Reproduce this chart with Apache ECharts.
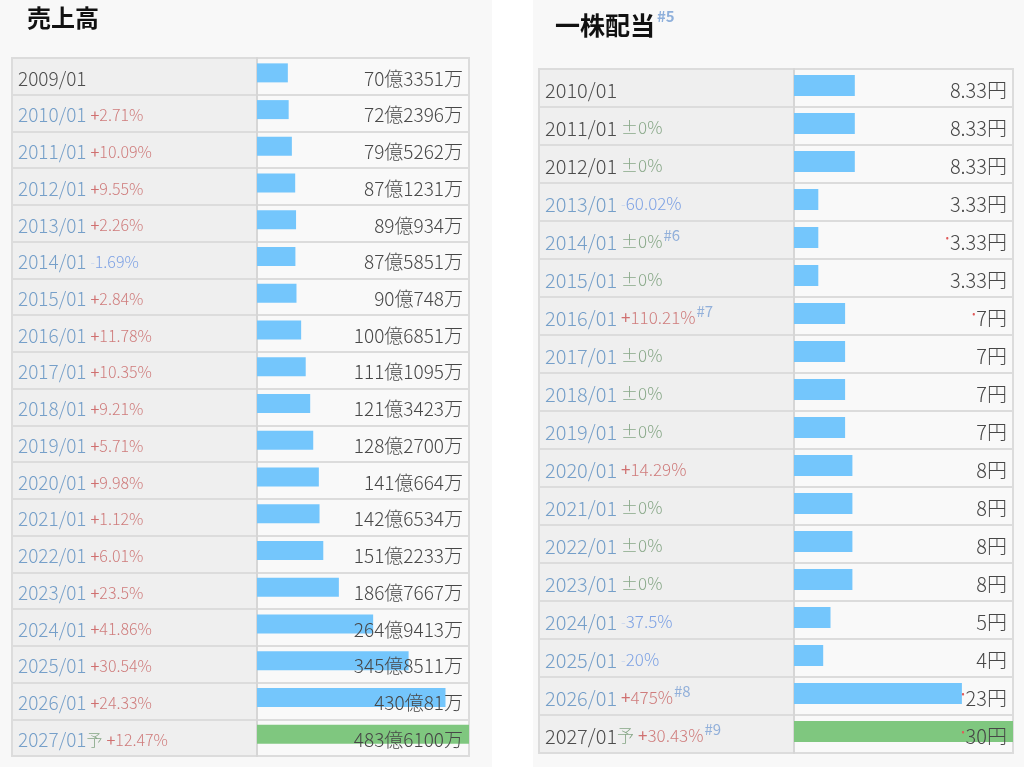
<!DOCTYPE html>
<html>
<head>
<meta charset="utf-8">
<title>売上高・一株配当</title>
<script src="https://cdn.jsdelivr.net/npm/echarts@6/dist/echarts.min.js"></script>
<style>
  html, body { margin: 0; padding: 0; background: #fff; }
  .panel { position: absolute; top: 0; height: 767px; background: #f8f8f8; }
  #sales { left: 0; width: 492px; }
  #dividend { left: 533px; width: 491px; }
</style>
</head>
<body>
<div id="sales" class="panel"></div>
<div id="dividend" class="panel"></div>
<script>
// 売上高（万円単位）
var salesYears = ['2009/01', '2010/01', '2011/01', '2012/01', '2013/01', '2014/01', '2015/01',
  '2016/01', '2017/01', '2018/01', '2019/01', '2020/01', '2021/01', '2022/01', '2023/01',
  '2024/01', '2025/01', '2026/01', '2027/01'];
var salesValues = [703351, 722396, 795262, 871231, 890934, 875851, 900748, 1006851, 1111095,
  1213423, 1282700, 1410664, 1426534, 1512233, 1867667, 2649413, 3458511, 4300081, 4836100];
var salesChange = [null, 2.71, 10.09, 9.55, 2.26, -1.69, 2.84, 11.78, 10.35, 9.21, 5.71, 9.98,
  1.12, 6.01, 23.5, 41.86, 30.54, 24.33, 12.47];
var salesNotes = ['', '', '', '', '', '', '', '', '', '', '', '', '', '', '', '', '', '', ''];
var salesPlainRows = [0];      // リンクなしの行（年を濃い灰色で表示）
var salesMarkedRows = [];      // 値の前に赤い印がある行

// 一株配当（円）
var divYears = ['2010/01', '2011/01', '2012/01', '2013/01', '2014/01', '2015/01', '2016/01',
  '2017/01', '2018/01', '2019/01', '2020/01', '2021/01', '2022/01', '2023/01', '2024/01',
  '2025/01', '2026/01', '2027/01'];
var divValues = [8.33, 8.33, 8.33, 3.33, 3.33, 3.33, 7, 7, 7, 7, 8, 8, 8, 8, 5, 4, 23, 30];
var divChange = [null, 0, 0, -60.02, 0, 0, 110.21, 0, 0, 0, 14.29, 0, 0, 0, -37.5, -20, 475, 30.43];
var divNotes = ['', '', '', '', '#6', '', '#7', '', '', '', '', '', '', '', '', '', '#8', '#9'];
var divPlainRows = [0, 1, 2, 17];
var divMarkedRows = [4, 6, 16, 17];

var FONT = '"Noto Sans CJK JP", "Noto Sans", sans-serif';

function fmtMan(v) {
  var oku = Math.floor(v / 10000), man = v % 10000;
  return oku + '億' + (man ? man + '万' : '');
}
function fmtYen(v) {
  return v + '円';
}
function fmtChange(c) {
  if (c === null) return '';
  if (c === 0) return '{z|±0%}';
  if (c > 0) return '{pp|+}{p|' + c + '%}';
  return '{nm|-}{n|' + Math.abs(c) + '%}';
}

function buildTable(el, cfg) {
  var chart = echarts.init(el, null, { renderer: 'canvas' });
  var n = cfg.years.length;
  var last = n - 1;

  var rowLabel = function (value, index) {
    var s = cfg.plain.indexOf(index) >= 0 ? '{yp|' + value + '}' : '{y|' + value + '}';
    if (index === last) s += '{f|予}';
    s += fmtChange(cfg.change[index]);
    if (cfg.notes[index]) s += '{s|' + cfg.notes[index] + '}';
    return s;
  };
  var valueLabel = function (value, index) {
    var s = cfg.marked.indexOf(index) >= 0 ? '{a|•}' : '';
    return s + '{v|' + cfg.fmt(cfg.values[index]) + '}';
  };

  var fs = cfg.fontSize, cs = cfg.changeSize, sh = cfg.textShift;
  var W = 300;
  var labelRich = {
    y: { color: '#759fc9', fontSize: fs, fontWeight: W, fontFamily: FONT, padding: [sh, 0, 0, 0] },
    yp: { color: '#4d4d4d', fontSize: fs, fontWeight: W, fontFamily: FONT, padding: [sh, 0, 0, 0] },
    f: { color: '#86a686', fontSize: cs, fontWeight: W, fontFamily: FONT, padding: [sh, 0, 0, 0] },
    pp: { color: '#d07070', fontSize: cs, fontWeight: 'normal', fontFamily: FONT, padding: [sh, 0, 0, 4] },
    p: { color: '#cf7c7c', fontSize: cs, fontWeight: W, fontFamily: FONT, padding: [sh, 0, 0, 0] },
    z: { color: '#88a888', fontSize: cs, fontWeight: W, fontFamily: FONT, padding: [sh, 0, 0, 4] },
    nm: { color: '#c3d3ee', fontSize: cs - 3, fontWeight: W, fontFamily: FONT, padding: [sh, 0, 0, 4] },
    n: { color: '#7ea2e4', fontSize: cs, fontWeight: W, fontFamily: FONT, padding: [sh, 0, 0, 0] },
    s: { color: '#92b0da', fontSize: cs - 2, fontFamily: FONT, verticalAlign: 'top', padding: [0, 0, 0, 1] }
  };
  var valueRich = {
    v: { color: '#474747', fontSize: fs, fontWeight: W, fontFamily: FONT, padding: [sh, 0, 0, 0] },
    a: { color: '#e05a5a', fontSize: 9, fontFamily: FONT, padding: [0, 1, 4, 0] }
  };

  var splitLine = { show: true, lineStyle: { color: '#dcdcdc', width: 2 } };

  chart.setOption({
    animation: false,
    title: {
      text: cfg.title,
      left: cfg.titleLeft,
      top: cfg.titleTop,
      textStyle: {
        rich: {
          t: { fontSize: cfg.titleSize, fontWeight: 'bold', color: '#111', fontFamily: FONT, lineHeight: 32 },
          s: { fontSize: 15, color: '#8fb0db', fontFamily: FONT, verticalAlign: 'top', padding: [0, 0, 0, 2] }
        }
      }
    },
    grid: [
      { left: cfg.table.left, top: cfg.table.top, width: cfg.table.labelWidth, height: cfg.table.height,
        show: true, backgroundColor: '#efefef', borderColor: '#dcdcdc', borderWidth: 2 },
      { left: cfg.table.left + cfg.table.labelWidth, top: cfg.table.top, width: cfg.table.valueWidth,
        height: cfg.table.height, show: true, backgroundColor: '#f9f9f9', borderColor: '#dcdcdc', borderWidth: 2 }
    ],
    xAxis: [
      { type: 'value', gridIndex: 0, show: false },
      { type: 'value', gridIndex: 1, show: false, min: 0, max: function (e) { return e.max; } }
    ],
    yAxis: [
      { type: 'category', gridIndex: 0, data: cfg.years, inverse: true,
        axisLine: { show: false }, axisTick: { show: false }, splitLine: splitLine,
        axisLabel: { inside: true, align: 'left', margin: 6, formatter: rowLabel, rich: labelRich } },
      { type: 'category', gridIndex: 1, data: cfg.years, inverse: true,
        axisLine: { show: true, lineStyle: { color: '#d6d6d6', width: 2 } },
        axisTick: { show: false }, splitLine: splitLine, axisLabel: { show: false } },
      { type: 'category', gridIndex: 1, data: cfg.years, inverse: true, position: 'right', z: 10,
        axisLine: { show: false }, axisTick: { show: false },
        axisLabel: { inside: true, align: 'right', margin: 6, formatter: valueLabel, rich: valueRich } }
    ],
    series: [
      {
        type: 'bar', xAxisIndex: 1, yAxisIndex: 1, barWidth: cfg.barWidth, barGap: 0,
        data: cfg.values,
        itemStyle: {
          color: function (p) { return p.dataIndex === last ? '#7fc77f' : '#74c6fc'; }
        }
      },
      {
        // 空の系列：バーを行の上寄りに置くための余白
        type: 'bar', xAxisIndex: 1, yAxisIndex: 1, barWidth: cfg.barShift, barGap: 0,
        data: cfg.values.map(function () { return '-'; })
      }
    ]
  });
  return chart;
}

buildTable(document.getElementById('sales'), {
  title: '{t|売上高}',
  titleLeft: 22, titleTop: -3, titleSize: 24,
  years: salesYears, values: salesValues, change: salesChange, notes: salesNotes,
  plain: salesPlainRows, marked: salesMarkedRows, fmt: fmtMan,
  fontSize: 19, changeSize: 16, textShift: 4, barWidth: 19, barShift: 7,
  table: { left: 12, top: 58, labelWidth: 245, valueWidth: 212, height: 698 }
});

buildTable(document.getElementById('dividend'), {
  title: '{t|一株配当}{s|#5}',
  titleLeft: 17, titleTop: 4, titleSize: 25,
  years: divYears, values: divValues, change: divChange, notes: divNotes,
  plain: divPlainRows, marked: divMarkedRows, fmt: fmtYen,
  fontSize: 20, changeSize: 17, textShift: 4, barWidth: 21, barShift: 5,
  table: { left: 6, top: 69, labelWidth: 255, valueWidth: 219, height: 684 }
});
</script>
</body>
</html>
